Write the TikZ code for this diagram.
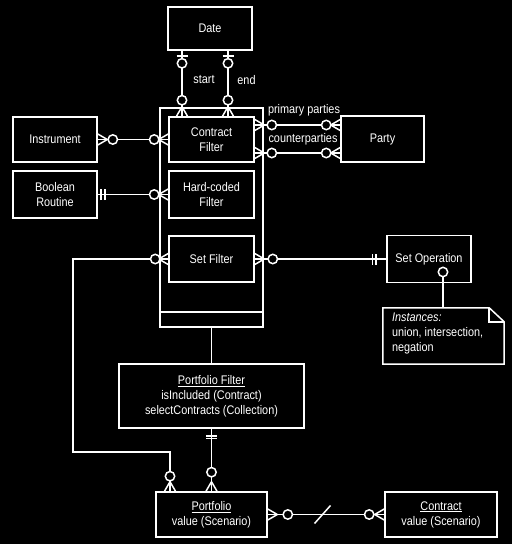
\documentclass[tikz,border=0pt]{standalone}
\usepackage{fontspec}
\setmainfont{Liberation Sans}[FakeStretch=0.87]
\usetikzlibrary{decorations.markings,calc}
\newcommand{\mkcrow}{\draw[erl] (9.5pt,0pt) -- (0pt,5.5pt) (9.5pt,0pt) -- (0pt,-5.5pt);}
\newcommand{\mkcirc}[1]{\draw[erl,fill=black] (#1pt,0pt) circle[radius=4.7pt];}
\newcommand{\mkbar}[1]{\draw[erl] (#1pt,-5.5pt) -- (#1pt,5.5pt);}
\newcommand{\mkslash}{\draw[erl] (-8pt,-9pt) -- (8pt,9pt);}
\begin{document}
\begin{tikzpicture}[x=1pt,y=-1pt,
  erl/.style={draw=white,line width=1.5pt},
  conn/.style={draw=white,line width=1.5pt},
  box/.style={draw=white,line width=1.6pt,inner sep=0pt,align=center,text=white,font=\fontsize{12.5}{15}\selectfont},
  lbl/.style={text=white,inner sep=0pt,font=\fontsize{12.5}{15}\selectfont},
  mS/.style={postaction={decorate,decoration={markings,mark=at position 0 with {#1}}}},
  mE/.style={postaction={decorate,decoration={markings,mark=at position 1 with {\begin{scope}[xscale=-1]#1\end{scope}}}}},
  mM/.style={postaction={decorate,decoration={markings,mark=at position 0.47 with {#1}}}},
]
\fill[black] (0,0) rectangle (512,544);
\useasboundingbox (0,0) rectangle (512,544);

% boxes
\node[box,minimum width=84pt,minimum height=43pt] (date) at (210,28.5) {Date};
\node[box,minimum width=103pt,minimum height=219pt] (filt) at (211.5,217.5) {};
\draw[conn] ([yshift=16pt]filt.south west) -- ([yshift=16pt]filt.south east);
\node[box,minimum width=85pt,minimum height=45pt] (cf) at (211.5,139.5) {Contract\\Filter};
\node[box,minimum width=85pt,minimum height=47pt] (hcf) at (211.5,194.5) {Hard-coded\\Filter};
\node[box,minimum width=85pt,minimum height=46pt] (sf) at (211.5,259) {Set Filter};
\node[box,minimum width=84pt,minimum height=45pt] (inst) at (55,139.5) {Instrument};
\node[box,minimum width=84pt,minimum height=47pt] (bool) at (55,194.5) {Boolean\\Routine};
\node[box,minimum width=83pt,minimum height=46pt] (party) at (382.5,139) {Party};
\node[box,minimum width=84pt,minimum height=47pt] (setop) at (429,259) {Set Operation};
\node[box,minimum width=185pt,minimum height=64pt] (pf) at (211.5,396) {\underline{Portfolio Filter}\\isIncluded (Contract)\\selectContracts (Collection)};
\node[box,minimum width=111pt,minimum height=45pt] (port) at (211.5,514.5) {\underline{Portfolio}\\value (Scenario)};
\node[box,minimum width=112pt,minimum height=45pt] (contract) at (441,514.5) {\underline{Contract}\\value (Scenario)};

% note
\node[minimum width=121pt,minimum height=56pt,inner sep=0pt] (note) at (443.5,336) {};
\draw[conn] (note.south west) -- (note.north west) -- ([xshift=-15pt]note.north east)
  -- ([yshift=-14pt]note.north east) -- (note.south east) -- cycle;
\draw[conn] ([xshift=-15pt]note.north east) -- ([xshift=-15pt,yshift=-14pt]note.north east) -- ([yshift=-14pt]note.north east);
\node[lbl,align=left,anchor=west] (notetext) at ([xshift=9pt,yshift=3pt]note.west) {\textit{Instances:}\\union, intersection,\\negation};
\coordinate (soc) at ([xshift=14pt,yshift=-13pt]setop.center);
\draw[conn] (note.north -| soc) -- (soc);
\draw[erl,fill=black] (soc) circle[radius=4.7pt];

% labels
\node[lbl] (lstart) at (204,80) {start};
\node[lbl] (lend) at (246.5,80) {end};
\node[lbl] (lpp) at (304,110) {primary parties};
\node[lbl] (lcp) at (303,139) {counterparties};

% connectors
\draw[conn,mS={\mkbar{5}\mkcirc{12.5}},mE={\mkcrow\mkcirc{16}}]
  ([xshift=-28pt]date.south) -- ([xshift=-28pt]date.south |- cf.north);
\draw[conn,mS={\mkbar{5}\mkcirc{12.5}},mE={\mkcrow\mkcirc{16}}]
  ([xshift=18pt]date.south) -- ([xshift=18pt]date.south |- cf.north);
\draw[conn,mS={\mkcrow\mkcirc{15}},mE={\mkcrow\mkcirc{14}}] (inst.east) -- (cf.west);
\draw[conn,mS={\mkbar{3}\mkbar{7}},mE={\mkcrow\mkcirc{14}}] (bool.east) -- (hcf.west);
\draw[conn,mS={\mkcrow\mkcirc{17}},mE={\mkcrow\mkcirc{14}}]
  ([yshift=14.5pt]cf.east) -- ([yshift=14.5pt]cf.east -| party.west);
\draw[conn,mS={\mkcrow\mkcirc{17}},mE={\mkcrow\mkcirc{14}}]
  ([yshift=-13.5pt]cf.east) -- ([yshift=-13.5pt]cf.east -| party.west);
\draw[conn,mS={\mkcrow\mkcirc{18}},mE={\mkbar{10}\mkbar{13.5}}] (sf.east) -- (setop.west);
\coordinate (lc) at (73,452);
\draw[conn,mS={\mkcrow\mkcirc{13}},mE={\mkcrow\mkcirc{15}}]
  (sf.west) -| (lc) -| ([xshift=-41.5pt]port.north);
\draw[conn] (filt.south) -- (pf.north);
\draw[conn,mS={\mkbar{7}\mkbar{9.5}},mE={\mkcrow\mkcirc{19}}] (pf.south) -- (port.north);
\draw[conn,mS={\mkcrow\mkcirc{20}},mE={\mkcrow\mkcirc{15}},mM={\mkslash}] (port.east) -- (contract.west);
\end{tikzpicture}
\end{document}
